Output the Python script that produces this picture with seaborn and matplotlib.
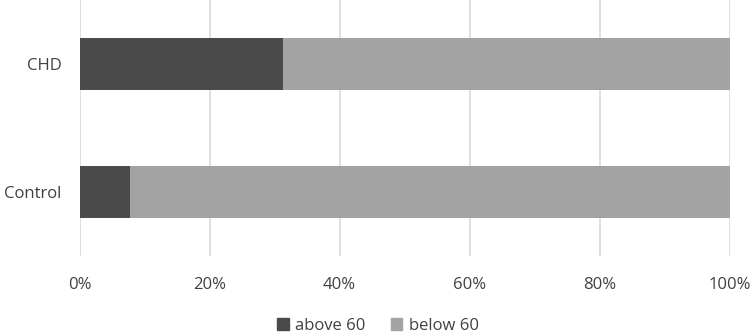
import matplotlib
matplotlib.use("Agg")
import matplotlib.pyplot as plt
import seaborn as sns
import pandas as pd
from matplotlib.patches import Patch
from matplotlib.ticker import PercentFormatter

categories = ["CHD", "Control"]
above_60 = [31.3, 7.8]
below_60 = [68.7, 92.2]
series_names = ["above 60", "below 60"]
colors = ["#4a4a4a", "#a3a3a3"]

sns.set_theme(style="white")
plt.rcParams["font.family"] = ["Open Sans", "DejaVu Sans"]

df = pd.DataFrame({"category": categories, "above": above_60,
                   "total": [a + b for a, b in zip(above_60, below_60)]})

fig = plt.figure(figsize=(7.56, 3.34), dpi=100)
ax = fig.add_axes([0.1054, 0.2335, 0.8598, 0.7665])

sns.barplot(data=df, y="category", x="total", color=colors[1], width=0.4,
            saturation=1, ax=ax, orient="h", linewidth=0)
sns.barplot(data=df, y="category", x="above", color=colors[0], width=0.4,
            saturation=1, ax=ax, orient="h", linewidth=0)

ax.set_xlim(0, 100)
ax.set_ylim(1.5, -0.5)
ax.set_xticks([0, 20, 40, 60, 80, 100])
ax.xaxis.set_major_formatter(PercentFormatter(decimals=0))
ax.grid(axis="x", color="#d9d9d9", linewidth=1.2)
ax.set_axisbelow(True)
for s in ax.spines.values():
    s.set_visible(False)
ax.set_xlabel("")
ax.set_ylabel("")
ax.tick_params(axis="both", length=0, labelsize=12, labelcolor="#404040")
ax.tick_params(axis="y", pad=13)
ax.tick_params(axis="x", pad=15)

handles = [Patch(color=c, label=n) for c, n in zip(colors, series_names)]
fig.legend(handles=handles, loc="center", bbox_to_anchor=(0.5, 0.025),
           ncol=2, frameon=False, fontsize=12, handlelength=0.7,
           handleheight=0.7, handletextpad=0.4, columnspacing=1.5,
           labelcolor="#404040")

fig.savefig("out.png", dpi=100)
